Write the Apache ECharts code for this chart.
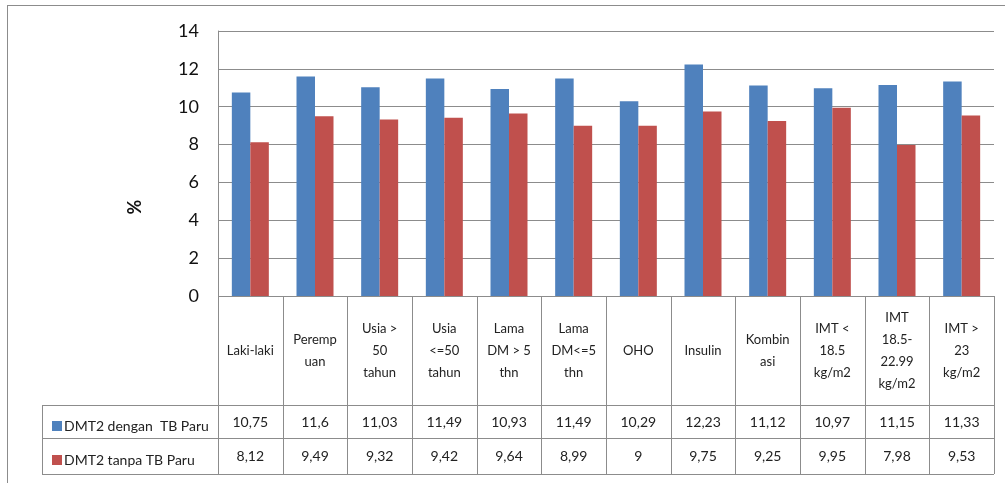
<!DOCTYPE html>
<html>
<head>
<meta charset="utf-8">
<script src="https://cdn.jsdelivr.net/npm/echarts@6/dist/echarts.min.js"></script>
<style>
  html, body { margin: 0; padding: 0; background: #fff; }
  #chart { width: 1005px; height: 483px; }
</style>
</head>
<body>
<div id="chart"></div>
<script>
// Categories (line breaks as they wrap in the data table cells)
const categories = [
  'Laki-laki', 'Peremp\nuan', 'Usia >\n50\ntahun', 'Usia\n<=50\ntahun',
  'Lama\nDM > 5\nthn', 'Lama\nDM<=5\nthn', 'OHO', 'Insulin',
  'Kombin\nasi', 'IMT <\n18.5\nkg/m2', 'IMT\n18.5-\n22.99\nkg/m2', 'IMT >\n23\nkg/m2'
];
const seriesNames = ['DMT2 dengan  TB Paru', 'DMT2 tanpa TB Paru'];
const denganTB = [10.75, 11.6, 11.03, 11.49, 10.93, 11.49, 10.29, 12.23, 11.12, 10.97, 11.15, 11.33];
const tanpaTB  = [8.12, 9.49, 9.32, 9.42, 9.64, 8.99, 9, 9.75, 9.25, 9.95, 7.98, 9.53];
const yTicks = { min: 0, max: 14, interval: 2 };
const yTitle = '%';

// Layout of plot area and the data table under it
const plotLeft = 218, plotRight = 994, plotTop = 31, plotBottom = 296;
const rowLines = [405, 438, 474];
const legendLeft = 42;
const lineColor = '#8c8c8c';
const font = 'Lato, "Open Sans", sans-serif';

const fmt = v => String(v).replace('.', ',');

function tableGraphics() {
  const els = [];
  const n = categories.length;
  const w = (plotRight - plotLeft) / n;
  const line = (x1, y1, x2, y2) => els.push({
    type: 'line', silent: true,
    shape: { x1, y1, x2, y2 },
    style: { stroke: lineColor, lineWidth: 1 }
  });
  // horizontal rules
  line(plotLeft, plotBottom + 0.5, plotRight, plotBottom + 0.5);
  rowLines.forEach(y => line(legendLeft, y + 0.5, plotRight, y + 0.5));
  // vertical rules
  line(legendLeft + 0.5, rowLines[0], legendLeft + 0.5, rowLines[2]);
  for (let k = 0; k <= n; k++) {
    const x = Math.round(plotLeft + k * w) + 0.5;
    line(x, plotBottom, x, rowLines[2]);
  }
  // outer frame
  line(7, 5.5, 1005, 5.5);
  line(7.5, 5, 7.5, 483);
  // value-axis title, rotated
  els.push({
    type: 'text', silent: true,
    x: 135, y: 207, rotation: Math.PI / 2,
    style: {
      text: yTitle, fontFamily: font, fontSize: 18, fontWeight: 'bold',
      fill: '#111', align: 'center', verticalAlign: 'middle'
    }
  });
  return els;
}

const chart = echarts.init(document.getElementById('chart'));
chart.setOption({
  backgroundColor: '#fff',
  animation: false,
  grid: {
    left: plotLeft, right: 1005 - plotRight,
    top: plotTop, bottom: 483 - plotBottom,
    containLabel: false
  },
  legend: {
    orient: 'vertical',
    left: 47, top: 414,
    itemGap: 20,
    itemWidth: 10, itemHeight: 10,
    icon: 'rect',
    selectedMode: false,
    textStyle: { fontFamily: font, fontSize: 14, color: '#222', padding: [0, 0, 0, -3] },
    data: seriesNames
  },
  xAxis: [
    {
      type: 'category', data: categories, position: 'bottom',
      axisLine: { show: false }, axisTick: { show: false },
      axisLabel: {
        interval: 0, margin: 55, verticalAlign: 'middle',
        fontFamily: font, fontSize: 13, lineHeight: 22, color: '#222'
      }
    },
    {
      type: 'category', data: denganTB.map(fmt), position: 'bottom',
      axisLine: { show: false }, axisTick: { show: false },
      axisLabel: {
        interval: 0, margin: 126, verticalAlign: 'middle',
        fontFamily: font, fontSize: 14, color: '#222'
      }
    },
    {
      type: 'category', data: tanpaTB.map(fmt), position: 'bottom',
      axisLine: { show: false }, axisTick: { show: false },
      axisLabel: {
        interval: 0, margin: 160, verticalAlign: 'middle',
        fontFamily: font, fontSize: 14, color: '#222'
      }
    }
  ],
  yAxis: {
    type: 'value', min: yTicks.min, max: yTicks.max, interval: yTicks.interval,
    axisLine: { show: true, lineStyle: { color: lineColor } },
    axisTick: { show: false },
    axisLabel: { margin: 19, fontFamily: font, fontSize: 18, color: '#111' },
    splitLine: { show: true, lineStyle: { color: lineColor, width: 1 } }
  },
  series: [
    {
      name: seriesNames[0], type: 'bar', data: denganTB,
      barWidth: 18.5, barGap: '0%',
      itemStyle: { color: '#4F81BD' }
    },
    {
      name: seriesNames[1], type: 'bar', data: tanpaTB,
      barWidth: 18.5, barGap: '0%',
      itemStyle: { color: '#C0504D' }
    }
  ],
  graphic: tableGraphics()
});
</script>
</body>
</html>
